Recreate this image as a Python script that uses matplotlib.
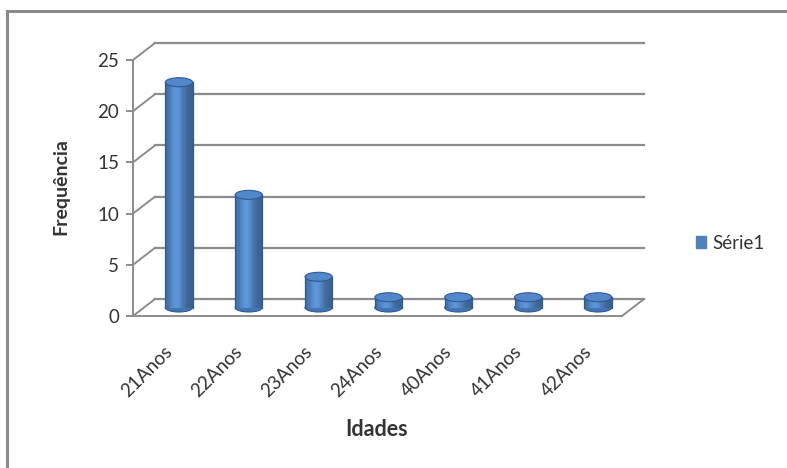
import matplotlib
matplotlib.use("Agg")
import matplotlib.pyplot as plt
import matplotlib.transforms as mtransforms
from matplotlib.patches import Ellipse, Rectangle, Patch
from matplotlib.lines import Line2D
import numpy as np

categories = ["21Anos", "22Anos", "23Anos", "24Anos", "40Anos", "41Anos", "42Anos"]
values = [22, 11, 3, 1, 1, 1, 1]
yticks = [0, 5, 10, 15, 20, 25]
series_name = "Série1"
xlabel = "Idades"
ylabel = "Frequência"

W, H, DPI = 787, 468, 100
FONT = "Lato"
plt.rcParams["font.family"] = [FONT, "DejaVu Sans"]

fig = plt.figure(figsize=(W / DPI, H / DPI), dpi=DPI)
fig.patch.set_facecolor("white")

# front plane of the 3D box (pixels)
x0, x1 = 133, 622
yb, yt = 316, 60
ax = fig.add_axes([x0 / W, 1 - yb / H, (x1 - x0) / W, (yb - yt) / H])
ax.set_xlim(-0.5, len(categories) - 0.5)
ax.set_ylim(0, 25)
ax.patch.set_alpha(0)
for s in ["top", "right", "bottom"]:
    ax.spines[s].set_visible(False)
ax.spines["left"].set_color("#8c8c8c")
ax.spines["left"].set_linewidth(1.4)
ax.set_xticks([])
ax.set_yticks(yticks)
ax.tick_params(axis="y", length=5, width=1.4, color="#8c8c8c", labelsize=13.5,
               labelcolor="#333333", pad=5)

# depth offsets
DX, DY = 0.22, 0.17
back = ax.transData + mtransforms.ScaledTranslation(DX, DY, fig.dpi_scale_trans)
mid = ax.transData + mtransforms.ScaledTranslation(DX / 2, DY / 2, fig.dpi_scale_trans)

gcol = "#8c8c8c"
xa, xb = -0.5, len(categories) - 0.5
for v in yticks:
    ax.plot([xa, xb], [v, v], color=gcol, lw=1.6, transform=back, clip_on=False, zorder=1)
    p0 = ax.transData.transform((xa, v))
    p1 = back.transform((xa, v))
    fig.add_artist(Line2D([p0[0] / W, p1[0] / W], [p0[1] / H, p1[1] / H],
                          color=gcol, lw=1.4, transform=fig.transFigure))
ax.plot([xa, xb], [0, 0], color=gcol, lw=1.4, clip_on=False, zorder=1)
p0 = ax.transData.transform((xb, 0))
p1 = back.transform((xb, 0))
fig.add_artist(Line2D([p0[0] / W, p1[0] / W], [p0[1] / H, p1[1] / H],
                      color=gcol, lw=1.4, transform=fig.transFigure))

# cylinders
bw = 0.39
px_per_unit = (yb - yt) / 25.0
eh = 9.0 / px_per_unit
base = np.array([0x4F, 0x81, 0xBD]) / 255.0
edge = "#2f5a91"
nstrip = 24
for i, v in enumerate(values):
    ax.add_patch(Ellipse((i, 0), bw, eh, transform=mid, facecolor="#4475b3",
                         edgecolor=edge, lw=0.8, zorder=3, clip_on=False))
    for k in range(nstrip):
        t = (k + 0.5) / nstrip
        shade = 0.74 + 0.42 * np.exp(-((t - 0.4) / 0.3) ** 2)
        col = np.clip(base * shade, 0, 1)
        ax.add_patch(Rectangle((i - bw / 2 + k * bw / nstrip, 0), bw / nstrip * 1.05, v,
                               transform=mid, facecolor=col, edgecolor="none",
                               zorder=4, clip_on=False))
    ax.plot([i - bw / 2, i - bw / 2], [0, v], color=edge, lw=0.9, transform=mid, zorder=5,
            clip_on=False)
    ax.plot([i + bw / 2, i + bw / 2], [0, v], color=edge, lw=0.9, transform=mid, zorder=5,
            clip_on=False)
    ax.add_patch(Ellipse((i, v), bw, eh, transform=mid, facecolor="#5287cb",
                         edgecolor=edge, lw=0.8, zorder=6, clip_on=False))

# category labels
lab_tr = ax.transData + mtransforms.ScaledTranslation(-0.04, -0.27, fig.dpi_scale_trans)
for i, c in enumerate(categories):
    ax.text(i, 0, c, transform=lab_tr, rotation=45, ha="right", va="top",
            rotation_mode="anchor", fontsize=13.5, color="#333333")

fig.text(377 / W, 1 - 430 / H, xlabel, ha="center", va="center", fontsize=15.5,
         fontweight="bold", color="#333333")
fig.text(61 / W, 1 - 187 / H, ylabel, ha="center", va="center", rotation=90,
         fontsize=14, fontweight="bold", color="#333333")

fig.legend(handles=[Patch(facecolor="#4F81BD", edgecolor="#4F81BD", label=series_name)],
           loc="center left", bbox_to_anchor=(696 / W, 1 - 243 / H), frameon=False,
           handlelength=0.55, handleheight=0.55, handletextpad=0.3, borderpad=0,
           borderaxespad=0, fontsize=13.5, labelcolor="#333333")

# outer frame (top and left only)
fig.add_artist(Line2D([7 / W, 1], [1 - 11 / H, 1 - 11 / H], color="#8a8a8a", lw=2.2,
                      transform=fig.transFigure))
fig.add_artist(Line2D([7 / W, 7 / W], [0, 1 - 11 / H], color="#8a8a8a", lw=2.2,
                      transform=fig.transFigure))

fig.savefig("out.png", dpi=DPI)
